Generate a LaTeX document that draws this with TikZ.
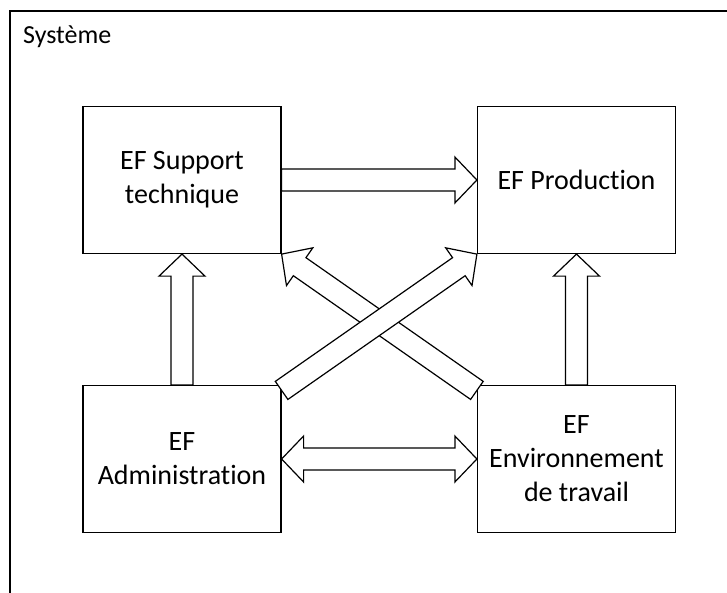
\documentclass[tikz,border=0pt]{standalone}
\usepackage{fontspec}
\setmainfont[Ligatures=NoCommon]{Carlito}
\usetikzlibrary{calc}

% block arrow dimensions
\def\sw{11pt}  % half width of the shaft
\def\hw{23pt}  % half width of the head
\def\hl{22pt}  % length of the head

% hollow block arrow from #1 to #2
\newcommand\blockarrow[2]{%
  \draw[blockarrow]
    ($(#1)!\sw!90:(#2)$) --
    ($(#2)!\hl!(#1)!\sw!90:(#2)$) --
    ($(#2)!\hl!(#1)!\hw!90:(#2)$) --
    (#2) --
    ($(#2)!\hl!(#1)!\hw!-90:(#2)$) --
    ($(#2)!\hl!(#1)!\sw!-90:(#2)$) --
    ($(#1)!\sw!-90:(#2)$) -- cycle;}

% hollow block arrow with heads at both ends
\newcommand\blockarrowboth[2]{%
  \draw[blockarrow]
    (#1) --
    ($(#1)!\hl!(#2)!\hw!90:(#2)$) --
    ($(#1)!\hl!(#2)!\sw!90:(#2)$) --
    ($(#2)!\hl!(#1)!\sw!90:(#2)$) --
    ($(#2)!\hl!(#1)!\hw!90:(#2)$) --
    (#2) --
    ($(#2)!\hl!(#1)!\hw!-90:(#2)$) --
    ($(#2)!\hl!(#1)!\sw!-90:(#2)$) --
    ($(#1)!\hl!(#2)!\sw!-90:(#2)$) --
    ($(#1)!\hl!(#2)!\hw!-90:(#2)$) -- cycle;}

\tikzset{
  ef/.style={draw, line width=1.2pt, minimum width=198pt, minimum height=147pt,
    align=center, inner sep=0pt, font=\fontsize{28}{34}\selectfont},
  blockarrow/.style={draw, fill=white, line width=1.2pt, line join=miter},
}

\begin{document}
\begin{tikzpicture}[x=1pt, y=-1pt]
  \useasboundingbox (0,0) rectangle (727,592);
  \fill[white] (0,0) rectangle (727,592);

  % system boundary
  \draw[line width=1.4pt] (10,11) rectangle (760,640);
  \node[anchor=base west, inner sep=0pt, font=\fontsize{26}{30}\selectfont]
    (sys) at (23,43) {Système};

  % functional entities
  \node[ef] (sup) at (182,180) {EF Support\\technique};
  \node[ef] (prod) at (576.5,180) {EF Production};
  \node[ef] (adm) at (182,459) {EF\\Administration};
  \node[ef] (env) at (576.5,459) {EF\\Environnement\\de travail};

  % tails of the diagonal arrows
  \coordinate (admtail) at ($(adm.north east)+(0,5.5)$);
  \coordinate (envtail) at ($(env.north west)+(0,5.5)$);

  % flows
  \blockarrow{sup.east}{prod.west}
  \blockarrow{adm.north}{sup.south}
  \blockarrow{env.north}{prod.south}
  \blockarrowboth{adm.east}{env.west}
  \blockarrow{envtail}{sup.south east}
  \blockarrow{admtail}{prod.south west}
\end{tikzpicture}
\end{document}
